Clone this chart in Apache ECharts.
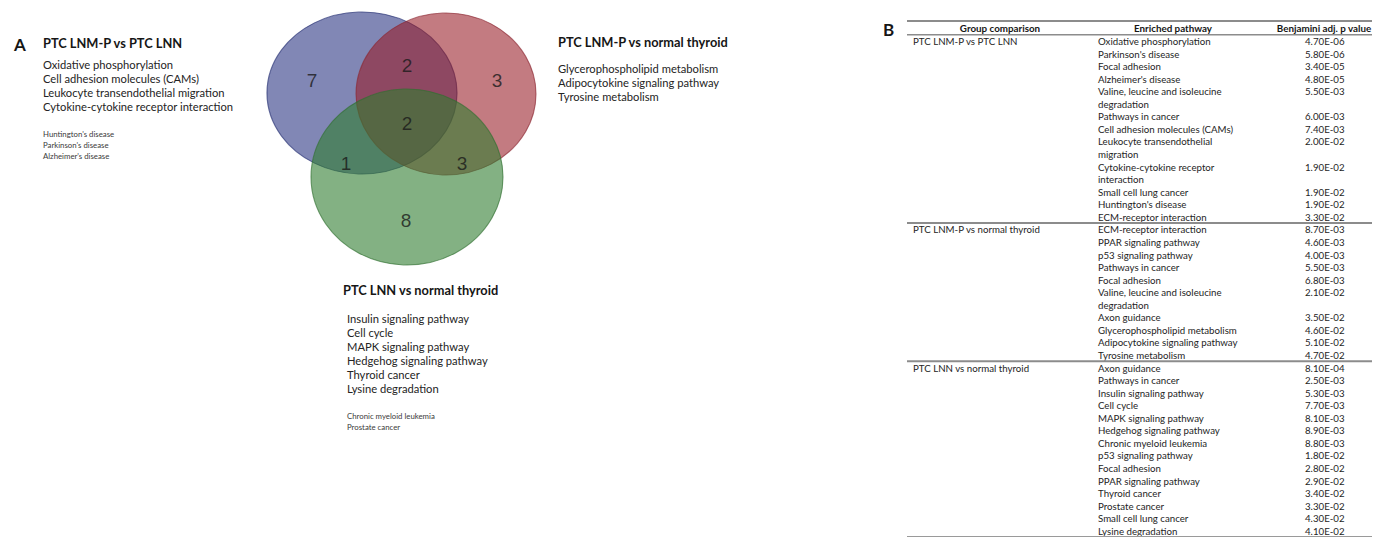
<!DOCTYPE html>
<html>
<head>
<meta charset="utf-8">
<script src="https://cdn.jsdelivr.net/npm/echarts@6/dist/echarts.min.js"></script>
<style>
  html, body { margin: 0; padding: 0; background: #fff; }
  #chart { width: 1386px; height: 537px; }
</style>
</head>
<body>
<div id="chart"></div>
<script>
// ---- Comparison sets ----
const setNames = ['PTC LNM-P vs PTC LNN', 'PTC LNM-P vs normal thyroid', 'PTC LNN vs normal thyroid'];

// ---- Venn region counts (number of enriched pathways per region) ----
const regionNames = [
  'LNM-P vs LNN only', 'LNM-P vs LNN & LNM-P vs normal', 'LNM-P vs normal only',
  'all three', 'LNM-P vs LNN & LNN vs normal', 'LNM-P vs normal & LNN vs normal', 'LNN vs normal only'
];
const regionCounts = [7, 2, 3, 2, 1, 3, 8];

// ---- Pathways unique to each comparison ----
const set1Pathways = ['Oxidative phosphorylation', 'Cell adhesion molecules (CAMs)', 'Leukocyte transendothelial migration', 'Cytokine-cytokine receptor interaction'];
const set1Diseases = ["Huntington's disease", "Parkinson's disease", "Alzheimer's disease"];
const set2Pathways = ['Glycerophospholipid metabolism', 'Adipocytokine signaling pathway', 'Tyrosine metabolism'];
const set3Pathways = ['Insulin signaling pathway', 'Cell cycle', 'MAPK signaling pathway', 'Hedgehog signaling pathway', 'Thyroid cancer', 'Lysine degradation'];
const set3Diseases = ['Chronic myeloid leukemia', 'Prostate cancer'];

// ---- Table B ----
const tableHeaders = ['Group comparison', 'Enriched pathway', 'Benjamini adj. p value'];
const group1Pathways = ['Oxidative phosphorylation', "Parkinson's disease", 'Focal adhesion', "Alzheimer's disease",
  'Valine, leucine and isoleucine degradation', 'Pathways in cancer', 'Cell adhesion molecules (CAMs)',
  'Leukocyte transendothelial migration', 'Cytokine-cytokine receptor interaction', 'Small cell lung cancer',
  "Huntington's disease", 'ECM-receptor interaction'];
const group1PValues = [4.70e-6, 5.80e-6, 3.40e-5, 4.80e-5, 5.50e-3, 6.00e-3, 7.40e-3, 2.00e-2, 1.90e-2, 1.90e-2, 1.90e-2, 3.30e-2];
const group2Pathways = ['ECM-receptor interaction', 'PPAR signaling pathway', 'p53 signaling pathway', 'Pathways in cancer',
  'Focal adhesion', 'Valine, leucine and isoleucine degradation', 'Axon guidance', 'Glycerophospholipid metabolism',
  'Adipocytokine signaling pathway', 'Tyrosine metabolism'];
const group2PValues = [8.70e-3, 4.60e-3, 4.00e-3, 5.50e-3, 6.80e-3, 2.10e-2, 3.50e-2, 4.60e-2, 5.10e-2, 4.70e-2];
const group3Pathways = ['Axon guidance', 'Pathways in cancer', 'Insulin signaling pathway', 'Cell cycle', 'MAPK signaling pathway',
  'Hedgehog signaling pathway', 'Chronic myeloid leukemia', 'p53 signaling pathway', 'Focal adhesion', 'PPAR signaling pathway',
  'Thyroid cancer', 'Prostate cancer', 'Small cell lung cancer', 'Lysine degradation'];
const group3PValues = [8.10e-4, 2.50e-3, 5.30e-3, 7.70e-3, 8.10e-3, 8.90e-3, 8.80e-3, 1.80e-2, 2.80e-2, 2.90e-2, 3.40e-2, 3.30e-2, 4.30e-2, 4.10e-2];

// ---------------------------------------------------------------------------
// Layout and styling
const FONT = 'Lato, "Open Sans", sans-serif';
const TEXT_DARK = '#161616';
const TEXT_BODY = '#242424';
const TEXT_MINOR = '#3a3a3a';

// Venn ellipses: centre and radii in the page-sized value grid
const vennGeom = [
  { cx: 362, cy: 93, rx: 95, ry: 81 },
  { cx: 446, cy: 94, rx: 90, ry: 81 },
  { cx: 407, cy: 177, rx: 96, ry: 88 }
];
const vennFill = ['rgba(45,55,132,0.6)', 'rgba(152,28,38,0.58)', 'rgba(48,125,48,0.6)'];
const vennStroke = ['rgba(45,55,120,0.7)', 'rgba(140,40,50,0.65)', 'rgba(48,110,48,0.65)'];
const regionAnchor = [[312, 80], [407, 65], [497, 80], [407, 123], [346, 163], [462, 163], [406, 220]];

function fmtP(v) {
  const s = v.toExponential(2).toUpperCase();           // e.g. 4.70E-6
  return s.replace(/E([+-])(\d)$/, 'E$10$2');
}

const measureCtx = document.createElement('canvas').getContext('2d');
function wrapText(text, font, maxW) {
  measureCtx.font = font;
  const words = text.split(' ');
  const lines = [];
  let cur = '';
  for (const w of words) {
    const t = cur ? cur + ' ' + w : w;
    if (cur && measureCtx.measureText(t).width > maxW) { lines.push(cur); cur = w; }
    else cur = t;
  }
  lines.push(cur);
  return lines;
}

const elements = [];
function txt(x, y, text, font, fill, align) {
  elements.push({
    type: 'text', silent: true,
    style: { x, y, text, font, fill: fill || TEXT_BODY, textAlign: align || 'left', textVerticalAlign: 'middle' }
  });
}
function hline(x1, x2, y, w, c) {
  elements.push({ type: 'line', silent: true, shape: { x1, y1: y, x2, y2: y }, style: { stroke: c, lineWidth: w } });
}

// ---- Panel A annotations ----
txt(14, 44, 'A', 'bold 17px ' + FONT, TEXT_DARK);
txt(43, 43, setNames[0], 'bold 12.8px ' + FONT, TEXT_DARK);
set1Pathways.forEach((p, i) => txt(43, 64 + i * 14.3, p, '11.2px ' + FONT));
set1Diseases.forEach((p, i) => txt(43, 134 + i * 11, p, '7.8px ' + FONT, TEXT_MINOR));

txt(558, 42, setNames[1], 'bold 12.8px ' + FONT, TEXT_DARK);
set2Pathways.forEach((p, i) => txt(558, 68 + i * 14, p, '11.2px ' + FONT));

txt(343, 290, setNames[2], 'bold 12.8px ' + FONT, TEXT_DARK);
set3Pathways.forEach((p, i) => txt(347, 318 + i * 14, p, '11.2px ' + FONT));
set3Diseases.forEach((p, i) => txt(347, 416 + i * 11, p, '7.8px ' + FONT, TEXT_MINOR));

// ---- Panel B table ----
const T = { left: 907, right: 1372, colGroup: 913, colPath: 1098, colP: 1305, firstY: 41, lineH: 12.56, wrapW: 148 };
const bodyFont = '9.7px ' + FONT;
const headFont = 'bold 9.8px ' + FONT;
txt(883, 29, 'B', 'bold 17px ' + FONT, TEXT_DARK);
hline(T.left, T.right, 21, 2, '#8c8c8c');
txt(1000, 28, tableHeaders[0], headFont, TEXT_DARK, 'center');
txt(1173, 28, tableHeaders[1], headFont, TEXT_DARK, 'center');
txt(1324, 28, tableHeaders[2], headFont, TEXT_DARK, 'center');
hline(T.left, T.right, T.firstY - T.lineH / 2, 1.5, '#8c8c8c');

const groups = [
  { name: setNames[0], paths: group1Pathways, pvals: group1PValues },
  { name: setNames[1], paths: group2Pathways, pvals: group2PValues },
  { name: setNames[2], paths: group3Pathways, pvals: group3PValues }
];
let line = 0;
groups.forEach((g, gi) => {
  const yOf = n => T.firstY + n * T.lineH;
  if (gi > 0) hline(T.left, T.right, yOf(line - 0.5), 2, '#8c8c8c');
  txt(T.colGroup, yOf(line), g.name, bodyFont);
  g.paths.forEach((p, i) => {
    const parts = wrapText(p, bodyFont, T.wrapW);
    txt(T.colP, yOf(line), fmtP(g.pvals[i]), bodyFont);
    parts.forEach(part => { txt(T.colPath, yOf(line), part, bodyFont); line++; });
  });
});
hline(T.left, T.right, T.firstY + (line - 0.5) * T.lineH, 2, '#9a9a9a');

// ---------------------------------------------------------------------------
const chart = echarts.init(document.getElementById('chart'), null, { renderer: 'svg' });
chart.setOption({
  animation: false,
  backgroundColor: '#ffffff',
  grid: { left: 0, right: 0, top: 0, bottom: 0 },
  xAxis: { type: 'value', min: 0, max: 1386, show: false },
  yAxis: { type: 'value', min: 0, max: 537, inverse: true, show: false },
  series: [
    {
      name: 'sets',
      type: 'custom',
      silent: true,
      data: setNames.map((n, i) => ({ name: n, value: [vennGeom[i].cx, vennGeom[i].cy, vennGeom[i].rx, vennGeom[i].ry] })),
      renderItem(params, api) {
        const i = params.dataIndex;
        const c = api.coord([api.value(0), api.value(1)]);
        const s = api.size([api.value(2), api.value(3)]);
        return {
          type: 'circle',
          x: c[0], y: c[1],
          scaleX: s[0] / s[1],
          shape: { cx: 0, cy: 0, r: s[1] },
          style: { fill: vennFill[i], stroke: vennStroke[i], lineWidth: 1 }
        };
      }
    },
    {
      name: 'counts',
      type: 'scatter',
      silent: true,
      symbolSize: 0,
      data: regionCounts.map((c, i) => ({ name: regionNames[i], value: [regionAnchor[i][0], regionAnchor[i][1], c] })),
      label: {
        show: true, position: 'inside',
        formatter: p => String(p.value[2]),
        fontFamily: '"Liberation Sans", Arial, sans-serif', fontSize: 19, color: '#1a1a1a'
      },
      z: 5
    }
  ],
  graphic: { elements }
});
</script>
</body>
</html>
